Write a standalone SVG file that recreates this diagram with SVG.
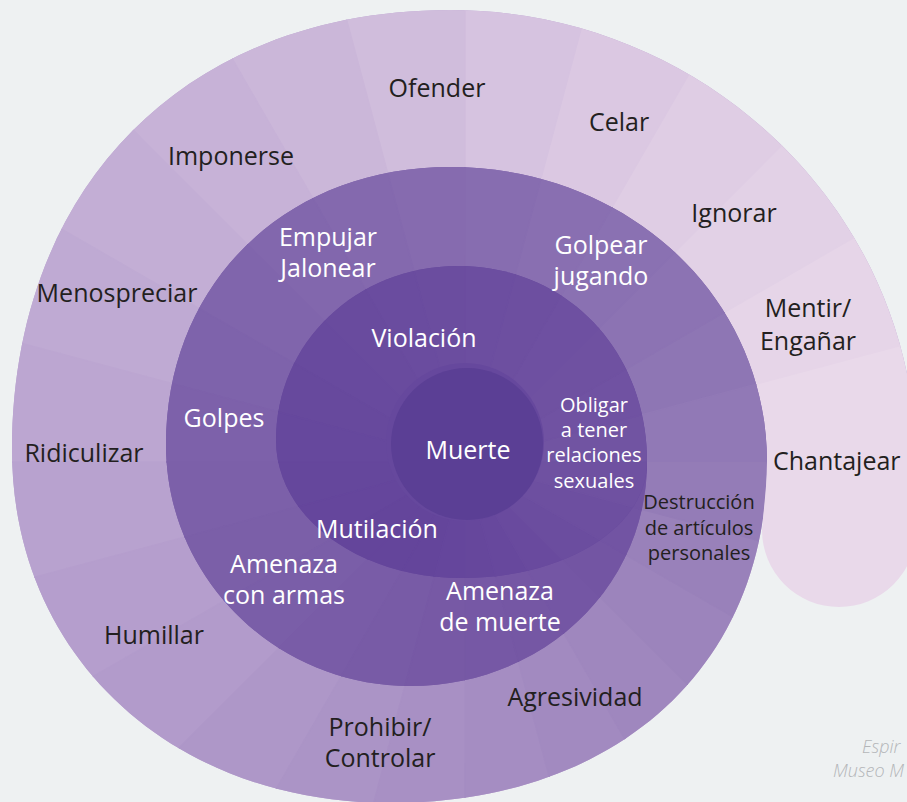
<svg xmlns="http://www.w3.org/2000/svg" xmlns:xlink="http://www.w3.org/1999/xlink" width="907" height="802" viewBox="0 0 907 802">
<style>
.t{font-family:"Open Sans","Liberation Sans",sans-serif;font-size:25px;font-weight:500;text-anchor:middle}
.d{fill:#231f20}
.w{fill:#ffffff}
.s{font-size:20px}
.n{font-family:"Open Sans","Liberation Sans",sans-serif;font-size:18px;font-style:italic;font-weight:300;fill:#b4b6b9}
.wg{stroke-width:1.5;stroke-linejoin:round}
</style>
<defs>
<path id="p1" d="M916 462C916 213 706 10 450 10C187 10 12 186 12 450C12 655 171 803 390 803C616 803 767 667 767 462Z"/>
<path id="p2" d="M767 462C767 297 628 167 450 167C285 167 166 284 166 445C166 578 276 686 410 686C543 686 647 587 647 462Z"/>
<path id="p3" d="M647 462C647 350 566 266 458 266C356 266 276 343 276 440C276 517 358 578 462 578C566 578 647 527 647 462Z"/>
<clipPath id="c1"><use xlink:href="#p1"/></clipPath>
<clipPath id="c2"><use xlink:href="#p2"/></clipPath>
<clipPath id="c3"><use xlink:href="#p3"/></clipPath>
<path id="w0" d="M465 462L1265 462L1238 255Z"/>
<path id="w1" d="M465 462L1238 255L1158 62Z"/>
<path id="w2" d="M465 462L1158 62L1031 -104Z"/>
<path id="w3" d="M465 462L1031 -104L865 -231Z"/>
<path id="w4" d="M465 462L865 -231L672 -311Z"/>
<path id="w5" d="M465 462L672 -311L465 -338Z"/>
<path id="w6" d="M465 462L465 -338L258 -311Z"/>
<path id="w7" d="M465 462L258 -311L65 -231Z"/>
<path id="w8" d="M465 462L65 -231L-101 -104Z"/>
<path id="w9" d="M465 462L-101 -104L-228 62Z"/>
<path id="w10" d="M465 462L-228 62L-308 255Z"/>
<path id="w11" d="M465 462L-308 255L-335 462Z"/>
<path id="w12" d="M465 462L-335 462L-308 669Z"/>
<path id="w13" d="M465 462L-308 669L-228 862Z"/>
<path id="w14" d="M465 462L-228 862L-101 1028Z"/>
<path id="w15" d="M465 462L-101 1028L65 1155Z"/>
<path id="w16" d="M465 462L65 1155L258 1235Z"/>
<path id="w17" d="M465 462L258 1235L465 1262Z"/>
<path id="w18" d="M465 462L465 1262L672 1235Z"/>
<path id="w19" d="M465 462L672 1235L865 1155Z"/>
<path id="w20" d="M465 462L865 1155L1031 1028Z"/>
<path id="w21" d="M465 462L1031 1028L1158 862Z"/>
<path id="w22" d="M465 462L1158 862L1238 669Z"/>
<path id="w23" d="M465 462L1238 669L1265 462Z"/>
</defs>
<rect width="907" height="802" fill="#eef1f2"/>

<g id="turn-outer">
<use xlink:href="#p1" fill="#bca6d1"/>
<g clip-path="url(#c1)" class="wg">
<use xlink:href="#w0" fill="#e9d9ea" stroke="#e9d9ea"/><use xlink:href="#w1" fill="#e6d5e8" stroke="#e6d5e8"/><use xlink:href="#w2" fill="#e2d1e6" stroke="#e2d1e6"/><use xlink:href="#w3" fill="#dfcde4" stroke="#dfcde4"/>
<use xlink:href="#w4" fill="#dbc8e2" stroke="#dbc8e2"/><use xlink:href="#w5" fill="#d6c3e0" stroke="#d6c3e0"/><use xlink:href="#w6" fill="#d0bddc" stroke="#d0bddc"/><use xlink:href="#w7" fill="#cbb7d9" stroke="#cbb7d9"/>
<use xlink:href="#w8" fill="#c7b2d7" stroke="#c7b2d7"/><use xlink:href="#w9" fill="#c3aed5" stroke="#c3aed5"/><use xlink:href="#w10" fill="#bfaad3" stroke="#bfaad3"/><use xlink:href="#w11" fill="#bca6d1" stroke="#bca6d1"/>
<use xlink:href="#w12" fill="#b8a2cf" stroke="#b8a2cf"/><use xlink:href="#w13" fill="#b59ecd" stroke="#b59ecd"/><use xlink:href="#w14" fill="#b29bcb" stroke="#b29bcb"/><use xlink:href="#w15" fill="#ae97c8" stroke="#ae97c8"/>
<use xlink:href="#w16" fill="#ab94c6" stroke="#ab94c6"/><use xlink:href="#w17" fill="#a890c4" stroke="#a890c4"/><use xlink:href="#w18" fill="#a58dc2" stroke="#a58dc2"/><use xlink:href="#w19" fill="#a28ac0" stroke="#a28ac0"/>
<use xlink:href="#w20" fill="#9f87be" stroke="#9f87be"/><use xlink:href="#w21" fill="#9c84bc" stroke="#9c84bc"/><use xlink:href="#w22" fill="#9981ba" stroke="#9981ba"/><use xlink:href="#w23" fill="#947cb7" stroke="#947cb7"/>
</g>
</g>

<g id="tail">
<path d="M767 457L916 457L916 530A77 77 0 0 1 762 530C764 505 767 485 767 462Z" fill="#e9d9ea"/>
</g>

<g id="turn-middle">
<use xlink:href="#p2" fill="#7d61aa"/>
<g clip-path="url(#c2)" class="wg">
<use xlink:href="#w1" fill="#8e76b4" stroke="#8e76b4"/><use xlink:href="#w2" fill="#8c73b3" stroke="#8c73b3"/><use xlink:href="#w3" fill="#8a71b2" stroke="#8a71b2"/>
<use xlink:href="#w4" fill="#896fb1" stroke="#896fb1"/><use xlink:href="#w5" fill="#876db0" stroke="#876db0"/><use xlink:href="#w6" fill="#866baf" stroke="#866baf"/><use xlink:href="#w7" fill="#8469ae" stroke="#8469ae"/>
<use xlink:href="#w8" fill="#8267ad" stroke="#8267ad"/><use xlink:href="#w9" fill="#8065ac" stroke="#8065ac"/><use xlink:href="#w10" fill="#7e63ab" stroke="#7e63ab"/><use xlink:href="#w11" fill="#7d61aa" stroke="#7d61aa"/>
<use xlink:href="#w12" fill="#7c60a9" stroke="#7c60a9"/><use xlink:href="#w13" fill="#7b5fa8" stroke="#7b5fa8"/><use xlink:href="#w14" fill="#7a5ea8" stroke="#7a5ea8"/><use xlink:href="#w15" fill="#795ca7" stroke="#795ca7"/>
<use xlink:href="#w16" fill="#785ba6" stroke="#785ba6"/><use xlink:href="#w17" fill="#7759a5" stroke="#7759a5"/><use xlink:href="#w18" fill="#7658a5" stroke="#7658a5"/><use xlink:href="#w19" fill="#7557a4" stroke="#7557a4"/>
<use xlink:href="#w20" fill="#7456a4" stroke="#7456a4"/><use xlink:href="#w21" fill="#7355a3" stroke="#7355a3"/><use xlink:href="#w22" fill="#7254a3" stroke="#7254a3"/><use xlink:href="#w23" fill="#7153a2" stroke="#7153a2"/>
<use xlink:href="#w0" fill="#9179b6" stroke="#9179b6"/>
</g>
</g>

<g id="turn-inner">
<use xlink:href="#p3" fill="#67499d"/>
<g clip-path="url(#c3)" class="wg">
<use xlink:href="#w0" fill="#7154a2" stroke="#7154a2"/><use xlink:href="#w1" fill="#7052a2" stroke="#7052a2"/><use xlink:href="#w2" fill="#6f51a1" stroke="#6f51a1"/><use xlink:href="#w3" fill="#6e50a1" stroke="#6e50a1"/>
<use xlink:href="#w4" fill="#6d4fa0" stroke="#6d4fa0"/><use xlink:href="#w5" fill="#6c4ea0" stroke="#6c4ea0"/><use xlink:href="#w6" fill="#6b4d9f" stroke="#6b4d9f"/><use xlink:href="#w7" fill="#6a4c9f" stroke="#6a4c9f"/>
<use xlink:href="#w8" fill="#694b9e" stroke="#694b9e"/><use xlink:href="#w9" fill="#684a9e" stroke="#684a9e"/><use xlink:href="#w10" fill="#67499d" stroke="#67499d"/><use xlink:href="#w11" fill="#66489d" stroke="#66489d"/>
<use xlink:href="#w12" fill="#65479c" stroke="#65479c"/><use xlink:href="#w13" fill="#65469c" stroke="#65469c"/><use xlink:href="#w14" fill="#64459b" stroke="#64459b"/><use xlink:href="#w15" fill="#64459b" stroke="#64459b"/>
<use xlink:href="#w16" fill="#64459b" stroke="#64459b"/><use xlink:href="#w17" fill="#65469c" stroke="#65469c"/><use xlink:href="#w18" fill="#66479c" stroke="#66479c"/><use xlink:href="#w19" fill="#67489d" stroke="#67489d"/>
<use xlink:href="#w20" fill="#694a9e" stroke="#694a9e"/><use xlink:href="#w21" fill="#6b4d9f" stroke="#6b4d9f"/><use xlink:href="#w22" fill="#6d4fa0" stroke="#6d4fa0"/><use xlink:href="#w23" fill="#6f51a1" stroke="#6f51a1"/>
</g>
</g>

<g id="muerte">
<circle cx="465" cy="442" r="79" fill="#66489d"/>
<circle cx="467" cy="444" r="76" fill="#5b3f95"/>
<text class="t w" x="468" y="459">Muerte</text>
</g>

<g id="labels-outer">
<text id="ofender" class="t d" x="437" y="97">Ofender</text>
<text id="celar" class="t d" x="619" y="131">Celar</text>
<text id="ignorar" class="t d" x="734" y="222">Ignorar</text>
<text id="mentir" class="t d" x="808" y="317">Mentir/<tspan x="808" y="350">Engañar</tspan></text>
<text id="chantajear" class="t d" x="773" y="470" style="text-anchor:start">Chantajear</text>
<text id="imponerse" class="t d" x="231" y="165">Imponerse</text>
<text id="menospreciar" class="t d" x="117" y="302">Menospreciar</text>
<text id="ridiculizar" class="t d" x="84" y="462">Ridiculizar</text>
<text id="humillar" class="t d" x="154" y="644">Humillar</text>
<text id="prohibir" class="t d" x="380" y="736">Prohibir/<tspan x="380" y="767">Controlar</tspan></text>
<text id="agresividad" class="t d" x="575" y="706">Agresividad</text>
<text id="destruccion" class="t d s" x="699" y="509">Destrucción<tspan x="699" y="535">de artículos</tspan><tspan x="699" y="560">personales</tspan></text>
</g>

<g id="labels-middle">
<text id="empujar" class="t w" x="328" y="246">Empujar<tspan x="328" y="277">Jalonear</tspan></text>
<text id="golpear" class="t w" x="601" y="254">Golpear<tspan x="601" y="285">jugando</tspan></text>
<text id="golpes" class="t w" x="224" y="427">Golpes</text>
<text id="amenaza-armas" class="t w" x="284" y="573">Amenaza<tspan x="284" y="604">con armas</tspan></text>
<text id="amenaza-muerte" class="t w" x="500" y="600">Amenaza<tspan x="500" y="631">de muerte</tspan></text>
</g>

<g id="labels-inner">
<text id="violacion" class="t w" x="424" y="347">Violación</text>
<text id="mutilacion" class="t w" x="377" y="538">Mutilación</text>
<text id="obligar" class="t w s" x="594" y="412">Obligar<tspan x="594" y="437">a tener</tspan><tspan x="594" y="462">relaciones</tspan><tspan x="594" y="488">sexuales</tspan></text>
</g>

<g id="source">
<text class="n" x="862" y="753">Espir</text>
<text class="n" x="833" y="777">Museo M</text>
</g>
</svg>
